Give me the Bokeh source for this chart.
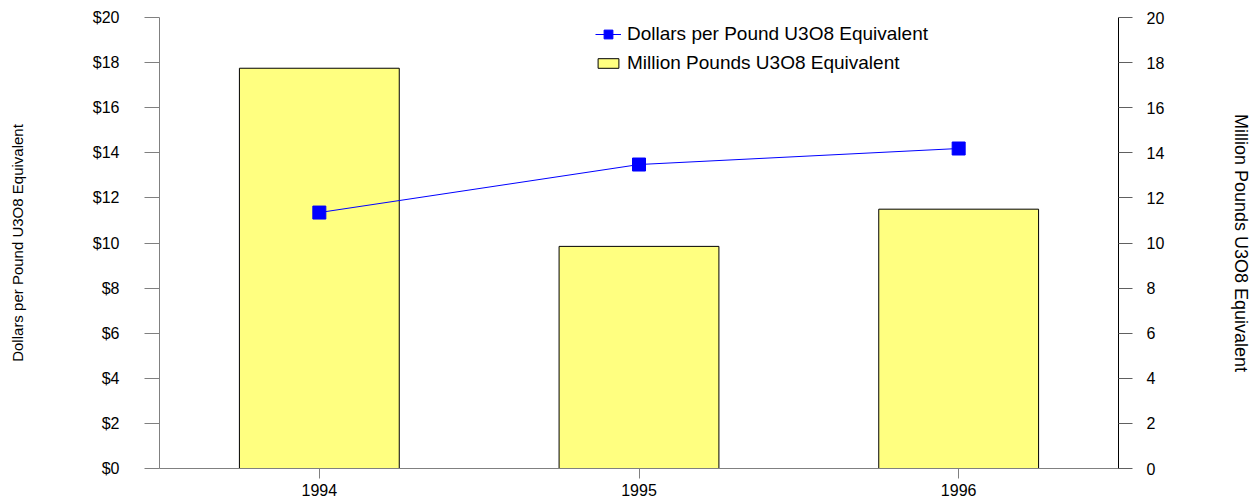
from bokeh.plotting import figure
from bokeh.models import (Range1d, FactorRange, LinearAxis, FixedTicker, NumeralTickFormatter,
                          Legend, LegendItem, ColumnDataSource)
from bokeh.embed import file_html
from bokeh.resources import INLINE

years = ["1994", "1995", "1996"]
dollars_per_pound = [11.35, 13.48, 14.19]
million_pounds = [17.75, 9.85, 11.5]
left_ticks = [0, 2, 4, 6, 8, 10, 12, 14, 16, 18, 20]
right_ticks = [0, 2, 4, 6, 8, 10, 12, 14, 16, 18, 20]

FONT = "Liberation Sans"

src = ColumnDataSource(dict(year=years, price=dollars_per_pound, qty=million_pounds))

p = figure(width=1254, height=501, x_range=FactorRange(*years, range_padding=0),
           y_range=Range1d(0, 20), output_backend="svg", toolbar_location=None,
           min_border_left=159, min_border_right=133, min_border_top=17, min_border_bottom=33)
p.extra_y_ranges = {"qty": Range1d(0, 20)}
p.outline_line_color = None
p.xgrid.visible = False
p.ygrid.visible = False
p.background_fill_color = "white"
p.border_fill_color = "white"

bars = p.vbar(x="year", top="qty", width=0.5, source=src, y_range_name="qty",
              fill_color="#FFFF80", line_color="black", line_width=1)
line = p.line(x="year", y="price", source=src, line_color="#0000FF", line_width=1)
pts = p.scatter(x="year", y="price", source=src, marker="square", size=13,
                fill_color="#0000FF", line_color="#0000FF")

# left axis
ya = p.yaxis[0]
ya.ticker = FixedTicker(ticks=left_ticks)
ya.formatter = NumeralTickFormatter(format="$0")
ya.axis_line_color = "#808080"
ya.major_tick_line_color = "#808080"
ya.major_tick_out = 15
ya.major_tick_in = 0
ya.minor_tick_line_color = None
ya.major_label_standoff = 25
ya.major_label_text_font = FONT
ya.major_label_text_font_size = "16px"
ya.major_label_text_color = "black"
ya.axis_label = "Dollars per Pound U3O8 Equivalent"
ya.axis_label_text_font = FONT
ya.axis_label_text_font_size = "15px"
ya.axis_label_text_font_style = "normal"
ya.axis_label_text_color = "black"
ya.axis_label_standoff = 64

# right axis
ra = LinearAxis(y_range_name="qty", ticker=FixedTicker(ticks=right_ticks))
ra.axis_line_color = "black"
ra.major_tick_line_color = "#606060"
ra.major_tick_out = 14
ra.major_tick_in = 0
ra.minor_tick_line_color = None
ra.major_label_standoff = 14
ra.major_label_text_font = FONT
ra.major_label_text_font_size = "16px"
ra.major_label_text_color = "black"
ra.axis_label = "Million Pounds U3O8 Equivalent"
ra.axis_label_text_font = FONT
ra.axis_label_text_font_size = "18px"
ra.axis_label_text_font_style = "normal"
ra.axis_label_text_color = "black"
ra.axis_label_standoff = 64
p.add_layout(ra, "right")

# x axis
xa = p.xaxis[0]
xa.axis_line_color = "#808080"
xa.major_tick_line_color = "#808080"
xa.major_tick_out = 10
xa.major_tick_in = 0
xa.major_label_standoff = 5
xa.major_label_text_font = FONT
xa.major_label_text_font_size = "16px"
xa.major_label_text_color = "black"

leg1 = Legend(items=[LegendItem(label="Dollars per Pound U3O8 Equivalent", renderers=[line, pts])],
              location=(436, 423), glyph_width=26, glyph_height=22, label_height=22,
              label_standoff=6, padding=0, margin=0, spacing=0,
              label_text_font=FONT, label_text_font_size="19px", label_text_color="black",
              border_line_color=None, background_fill_alpha=0)
leg2 = Legend(items=[LegendItem(label="Million Pounds U3O8 Equivalent", renderers=[bars])],
              location=(436, 394), glyph_width=26, glyph_height=12, label_height=22,
              label_standoff=6, padding=0, margin=0, spacing=0,
              label_text_font=FONT, label_text_font_size="19px", label_text_color="black",
              border_line_color=None, background_fill_alpha=0)
p.add_layout(leg1, "center")
p.add_layout(leg2, "center")

open("out.html", "w").write(file_html(p, INLINE))
